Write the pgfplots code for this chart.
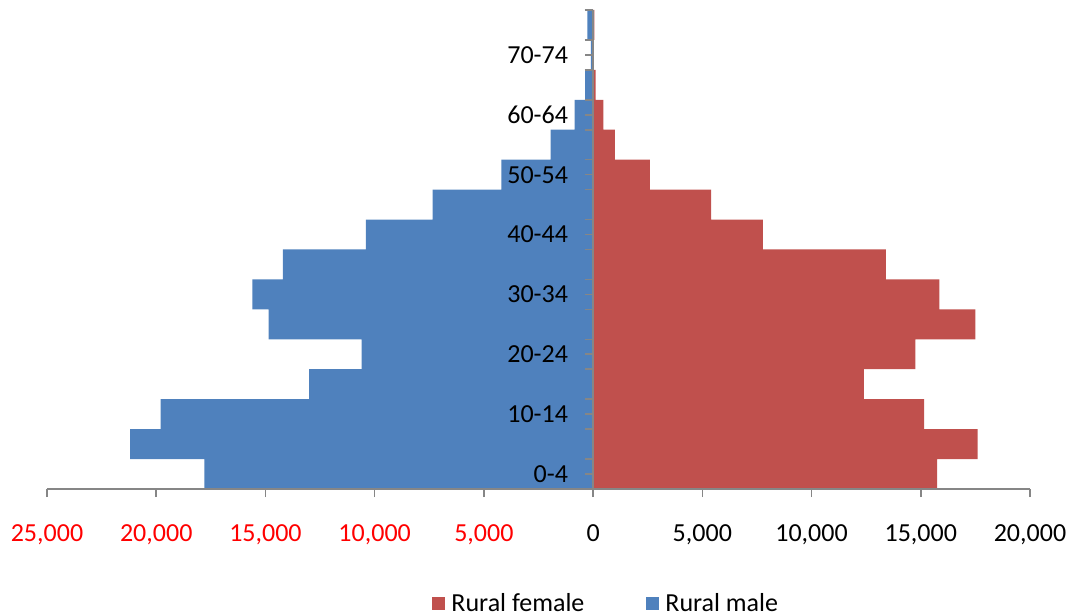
\documentclass[border=0pt]{standalone}
\usepackage{pgfplots}
\pgfplotsset{compat=1.18}
\usepackage{fontspec}
\setmainfont{Carlito}
\definecolor{malec}{HTML}{4F81BD}
\definecolor{femalec}{HTML}{C0504D}
\definecolor{gridc}{HTML}{868686}
\newcommand{\fs}{\fontsize{13pt}{15.6pt}\selectfont}
\begin{document}
\fs
\begin{tikzpicture}
% background axis: vertical gridlines only
\begin{axis}[
  at={(0,0)}, anchor=south west,
  scale only axis, width=491.5pt, height=239.5pt,
  xmin=-25000, xmax=20000, ymin=-0.5, ymax=15.5,
  hide x axis, hide y axis,
  xtick={-25000,-20000,...,20000}, ytick=\empty,
  xmajorgrids, grid style={gridc, line width=0.8pt},
  scaled x ticks=false,
]
\addplot[draw=none] coordinates {(0,0)};
\end{axis}
% foreground axis: bars, axes, ticks, labels
\begin{axis}[
  at={(0,0)}, anchor=south west,
  scale only axis, width=491.5pt, height=239.5pt,
  axis on top,
  xbar, bar width=1, bar shift=0pt,
  xmin=-25000, xmax=20000,
  ymin=-0.5, ymax=15.5,
  axis x line=bottom, axis y line=middle,
  axis line style={gridc, line width=0.8pt, -},
  scaled x ticks=false,
  xtick={-25000,-20000,-15000,-10000,-5000,0,5000,10000,15000,20000},
  xticklabels={\textcolor{red}{25,000},\textcolor{red}{20,000},\textcolor{red}{15,000},\textcolor{red}{10,000},\textcolor{red}{5,000},0,{5,000},{10,000},{15,000},{20,000}},
  xticklabel style={font=\fs, yshift=-9.5pt},
  x tick style={gridc, line width=0.8pt},
  xtick align=outside, major tick length=4pt,
  ytick={0,2,...,14},
  yticklabels={0-4,10-14,20-24,30-34,40-44,50-54,60-64,70-74},
  minor ytick={-0.5,0.5,...,15.5},
  y tick style={gridc, line width=0.8pt},
  ytick align=outside, minor tick length=4.3pt,
  yticklabel style={font=\fs, anchor=east, xshift=-4pt},
  clip=false,
  legend columns=2,
  legend style={draw=none, fill=none, at={(0.571,-0.24)}, anchor=center, font=\fs,
    /tikz/every even column/.append style={column sep=28pt},
    /tikz/every node/.append style={inner xsep=3pt}},
  legend image code/.code={\fill[#1] (0pt,-3.25pt) rectangle (6.5pt,3.25pt);},
]
\addplot[fill=femalec, draw=none] coordinates {
(15750,0) (17600,1) (15150,2) (12400,3) (14750,4) (17500,5) (15850,6) (13400,7)
(7770,8) (5400,9) (2600,10) (1000,11) (470,12) (120,13) (20,14) (60,15)};
\addlegendentry{Rural female}
\addplot[fill=malec, draw=none] coordinates {
(-17800,0) (-21200,1) (-19800,2) (-13000,3) (-10600,4) (-14850,5) (-15600,6) (-14200,7)
(-10400,8) (-7350,9) (-4200,10) (-1950,11) (-850,12) (-370,13) (-100,14) (-260,15)};
\addlegendentry{Rural male}
\end{axis}
\pgfresetboundingbox
\path[use as bounding box] (-23.5pt,-63.5pt) rectangle (515.5pt,244.5pt);
\end{tikzpicture}
\end{document}
